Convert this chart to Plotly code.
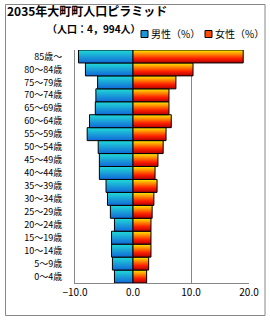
import plotly.graph_objects as go

categories = ["0～4歳", "5～9歳", "10～14歳", "15～19歳", "20～24歳", "25～29歳",
              "30～34歳", "35～39歳", "40～44歳", "45～49歳", "50～54歳", "55～59歳",
              "60～64歳", "65～69歳", "70～74歳", "75～79歳", "80～84歳", "85歳～"]
male = [3.2, 3.55, 3.7, 3.7, 3.2, 3.9, 4.4, 4.65, 5.8, 5.8, 6.0, 7.9,
        7.5, 6.5, 6.4, 6.1, 8.2, 9.4]
female = [2.35, 2.7, 3.1, 3.1, 3.1, 3.3, 3.6, 4.15, 3.8, 4.3, 5.2, 5.7,
          6.6, 6.2, 6.2, 7.4, 10.35, 19.0]
x_ticks = [-10, 0, 10, 20]
series_names = ["男性（%）", "女性（%）"]

FONT = "Noto Sans CJK JP"
male_scale = [[0, "#1068d8"], [0.5, "#1aa0d8"], [1, "#20dcd8"]]
female_scale = [[0, "#b00000"], [0.35, "#ff2000"], [0.7, "#ff9000"], [1, "#ffee00"]]

fig = go.Figure()

def add_bars(values, sign, name, scale):
    for i, v in enumerate(values):
        xv = sign * v
        fig.add_trace(go.Scatter(
            x=[0, xv, xv, 0, 0],
            y=[i - 0.5, i - 0.5, i + 0.5, i + 0.5, i - 0.5],
            mode="lines", fill="toself",
            fillgradient=dict(type="vertical", colorscale=scale),
            line=dict(color="black", width=1),
            name=name, showlegend=False, hoverinfo="skip",
        ))

add_bars(male, -1, series_names[0], male_scale)
add_bars(female, 1, series_names[1], female_scale)

W, H = 270, 320
L, R, T, B = 75, 21, 50, 37
pw, ph = W - L - R, H - T - B

def px(x):
    return (x - L) / pw

def py(y):
    return (H - B - y) / ph

shapes = [dict(type="rect", xref="paper", yref="paper",
               x0=px(5.5), x1=px(265), y0=py(315.5), y1=py(4.5),
               line=dict(color="#888888", width=1), layer="below")]
annotations = [dict(text="<b>（人口：4，994人）</b>", xref="paper", yref="paper",
                    x=px(45), y=py(28), xanchor="left", yanchor="middle",
                    showarrow=False, font=dict(size=10, family=FONT))]

# legend: small squares + labels
legend_items = [(141, "#1898d8", series_names[0]), (205, "#ff4a00", series_names[1])]
for x0, col, name in legend_items:
    shapes.append(dict(type="rect", xref="paper", yref="paper",
                       x0=px(x0), x1=px(x0 + 7), y0=py(37.5), y1=py(30.5),
                       fillcolor=col, line=dict(color="black", width=1)))
    annotations.append(dict(text=name, xref="paper", yref="paper",
                            x=px(x0 + 8), y=py(34), xanchor="left", yanchor="middle",
                            showarrow=False, font=dict(size=10, family=FONT)))

fig.update_layout(
    width=W, height=H,
    margin=dict(l=L, r=R, t=T, b=B),
    paper_bgcolor="white", plot_bgcolor="white",
    font=dict(family=FONT, size=10, color="black"),
    title=dict(text="<b>2035年大町町人口ピラミッド</b>", x=7 / W, xanchor="left",
               y=1 - 12 / H, yanchor="middle", font=dict(size=12, family=FONT)),
    showlegend=False,
    xaxis=dict(range=[-10, 20], tickvals=x_ticks, tickformat=".1f",
               showgrid=True, gridcolor="#888888", gridwidth=1,
               zeroline=False, showline=True, linecolor="#888888", linewidth=1,
               ticks="", tickfont=dict(size=10, family=FONT)),
    yaxis=dict(range=[-0.5, 17.5], tickvals=list(range(len(categories))),
               ticktext=categories, showgrid=False, zeroline=False,
               showline=True, linecolor="#888888", linewidth=1, ticks="",
               ticklabelstandoff=10, tickfont=dict(size=9, family=FONT)),
    annotations=annotations,
    shapes=shapes,
)

fig.write_html("out.html")
